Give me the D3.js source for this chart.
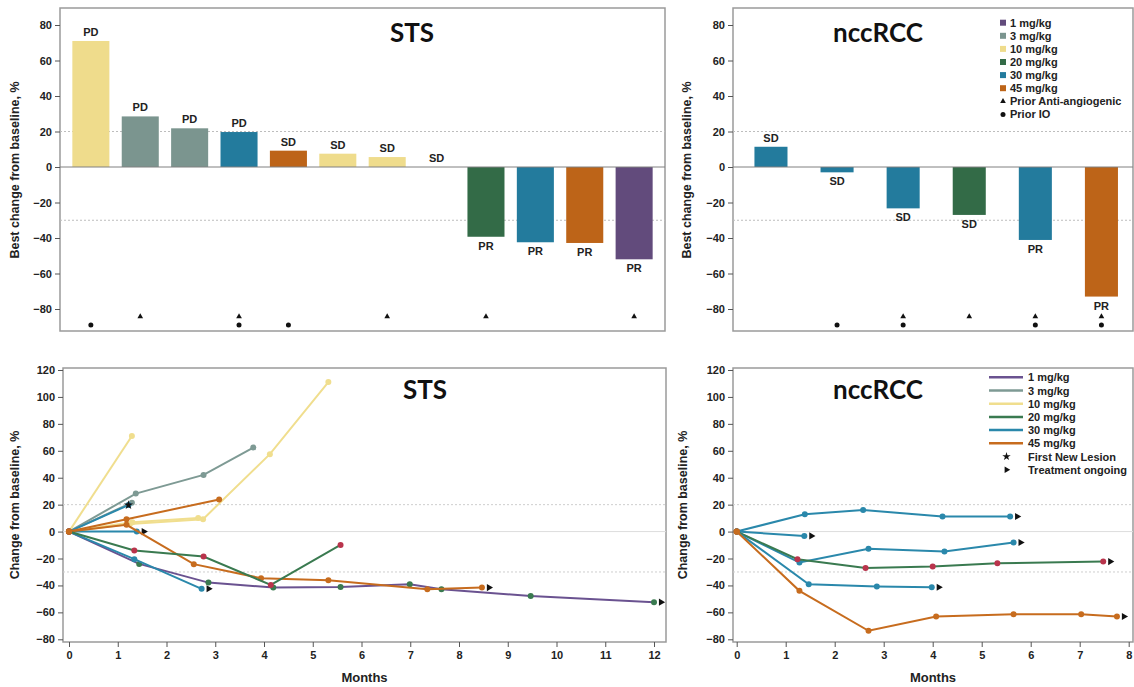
<!DOCTYPE html>
<html lang="en">
<head>
<meta charset="UTF-8">
<title>Best change and change over time - STS / nccRCC</title>
<script src="https://d3js.org/d3.v7.min.js"></script>
<style>
body {margin: 0; background: white;}
svg {display: block;}
text {font-family: "Liberation Sans", Arial, sans-serif; fill: #222;}
.tick text {font-weight: bold; font-size: 11px;}
.ttl {font-family: Lato, "Open Sans", sans-serif; font-weight: bold; font-size: 26px; fill: #111;}
.alab {font-weight: bold; font-size: 12.5px;}
.blab {font-weight: bold; font-size: 11px;}
.leg {font-weight: bold; font-size: 11px;}
</style>
</head>
<body>
<svg width="1134" height="687"></svg>
<script>
// dose groups
var doses = ["1", "3", "10", "20", "30", "45"];
var doseNames = ["1 mg/kg", "3 mg/kg", "10 mg/kg", "20 mg/kg", "30 mg/kg", "45 mg/kg"];

// waterfall, STS
var stsBarDose  = ["10", "3", "3", "30", "45", "10", "10", "30", "20", "30", "45", "1"];
var stsBarValue = [71, 28.5, 21.8, 19.7, 9.2, 7.5, 5.6, 0, -39.3, -42.4, -42.8, -52];
var stsBarResp  = ["PD", "PD", "PD", "PD", "SD", "SD", "SD", "SD", "PR", "PR", "PR", "PR"];
var stsAntiAngio = [0, 1, 0, 1, 0, 0, 1, 0, 1, 0, 0, 1];
var stsPriorIO   = [1, 0, 0, 1, 1, 0, 0, 0, 0, 0, 0, 0];

// waterfall, nccRCC
var rccBarDose  = ["30", "30", "30", "20", "30", "45"];
var rccBarValue = [11.4, -3, -23.3, -27, -41.1, -73];
var rccBarResp  = ["SD", "SD", "SD", "SD", "PR", "PR"];
var rccAntiAngio = [0, 0, 1, 1, 1, 1];
var rccPriorIO   = [0, 1, 1, 0, 1, 1];

// spider plot, STS  (months / % change per patient)
var stsLineDose   = ["1", "3", "3", "10", "10", "10", "30", "30", "30", "45", "45", "20"];
var stsLineMarker = ["20", "3", "3", "10", "10", "10", "30", "30", "30", "45", "45", "red"];
var stsLineMonths = [
  [0, 1.44, 2.86, 4.19, 5.57, 6.99, 7.64, 9.47, 12.0],
  [0, 1.37, 2.76, 3.78],
  [0, 1.29],
  [0, 1.29],
  [0, 1.3, 2.65],
  [0, 1.25, 2.75, 4.12, 5.32],
  [0, 1.22],
  [0, 1.39],
  [0, 1.34, 2.72],
  [0, 1.18, 3.08],
  [0, 1.18, 2.56, 3.94, 5.32, 7.35, 8.47],
  [0, 1.34, 2.76, 4.14, 5.57]
];
var stsLineChange = [
  [0, -24, -37.9, -41.6, -41.1, -39.1, -42.8, -47.8, -52.4],
  [0, 28.2, 42.1, 62.4],
  [0, 21.5],
  [0, 71],
  [0, 7, 10],
  [0, 5.6, 9.2, 57.5, 111],
  [0, 19.7],
  [0, 0],
  [0, -20.5, -42.5],
  [0, 9.2, 23.8],
  [0, 5, -24.2, -34.6, -36.1, -42.8, -41.6],
  [0, -14.1, -18.5, -39.6, -9.9]
];
var stsOngoing   = [1, 0, 0, 0, 0, 0, 0, 1, 1, 0, 1, 0];
var stsNewLesion = [0, 0, 0, 0, 0, 0, 1, 0, 0, 0, 0, 0];

// spider plot, nccRCC
var rccLineDose   = ["30", "30", "30", "20", "30", "45"];
var rccLineMarker = ["30", "30", "30", "red", "30", "45"];
var rccLineMonths = [
  [0, 1.39, 2.58, 4.2, 5.58],
  [0, 1.38],
  [0, 1.28, 2.69, 4.24, 5.65],
  [0, 1.24, 2.63, 4.0, 5.32, 7.48],
  [0, 1.47, 2.86, 3.98],
  [0, 1.28, 2.69, 4.07, 5.65, 7.03, 7.76]
];
var rccLineChange = [
  [0, 12.9, 16.1, 11.2, 11.2],
  [0, -3.2],
  [0, -23, -12.8, -14.8, -8.1],
  [0, -20.5, -27, -26, -23.5, -22.3],
  [0, -39.1, -40.8, -41.3],
  [0, -44, -73.7, -63.1, -61.4, -61.4, -63.1]
];
var rccOngoing   = [1, 1, 1, 1, 1, 1];
var rccNewLesion = [0, 0, 0, 0, 0, 0];

var barTicks = [-80, -60, -40, -20, 0, 20, 40, 60, 80];
var lineTicks = [-80, -60, -40, -20, 0, 20, 40, 60, 80, 100, 120];

// colours
var barColor = d3.scaleOrdinal().domain(doses)
  .range(["#624b7c", "#7b958f", "#efdc8c", "#336b47", "#237b9d", "#bd6418"]);
var lineColor = d3.scaleOrdinal().domain(doses)
  .range(["#6a5290", "#7e9a94", "#f0de8e", "#3a7a50", "#2a88ab", "#c76c1e"]);
function markColor(k) { return k == "red" ? "#b9344c" : lineColor(k); }

var svg = d3.select("svg");

function frame(x0, x1, y0, y1) {
  svg.append("rect").attr("x", x0).attr("y", y0)
    .attr("width", x1 - x0).attr("height", y1 - y0)
    .attr("fill", "none").attr("stroke", "#9a9a9a").attr("stroke-width", 1.5);
}

function hline(x0, x1, y, dashed, col) {
  svg.append("line").attr("x1", x0).attr("x2", x1).attr("y1", y).attr("y2", y)
    .attr("stroke", col).attr("stroke-width", 1)
    .attr("stroke-dasharray", dashed ? "2,2" : null);
}

function yAxis(x, scale, ticks) {
  var g = svg.append("g").attr("transform", "translate(" + x + ",0)")
    .call(d3.axisLeft(scale).tickValues(ticks).tickSize(5).tickPadding(3));
  g.select(".domain").remove();
  g.selectAll(".tick line").attr("stroke", "#555");
}

function yLabel(x, y, txt) {
  svg.append("text").attr("class", "alab").attr("text-anchor", "middle")
    .attr("transform", "translate(" + x + "," + y + ") rotate(-90)").text(txt);
}

function title(x, y, txt) {
  svg.append("text").attr("class", "ttl").attr("text-anchor", "middle")
    .attr("x", x).attr("y", y).text(txt);
}

// ---------- waterfall panels ----------
var yb = d3.scaleLinear().domain([-80, 80]).range([309, 25]);

function waterfall(x0, x1, xr, pad, dose, val, resp, anti, io) {
  frame(x0, x1, 8, 331);
  hline(x0, x1, yb(20), true, "#bdbdbd");
  hline(x0, x1, yb(-30), true, "#bdbdbd");
  var xb = d3.scaleBand().domain(d3.range(val.length)).range(xr).padding(pad);
  var cx = function(i) { return xb(i) + xb.bandwidth() / 2; };
  var g = svg.append("g");
  g.selectAll("rect").data(val).enter().append("rect")
    .attr("x", function(d, i) { return xb(i); })
    .attr("width", xb.bandwidth())
    .attr("y", function(d) { return yb(Math.max(d, 0)); })
    .attr("height", function(d) { return Math.abs(yb(d) - yb(0)); })
    .attr("fill", function(d, i) { return barColor(dose[i]); });
  hline(x0, x1, yb(0), false, "#808080");
  g.selectAll("text.blab").data(val).enter().append("text").attr("class", "blab")
    .attr("text-anchor", "middle")
    .attr("x", function(d, i) { return cx(i); })
    .attr("y", function(d) { return d >= 0 ? yb(d) - 5 : yb(d) + 13; })
    .text(function(d, i) { return resp[i]; });
  anti.forEach(function(a, i) {
    if (a) g.append("path").attr("d", d3.symbol(d3.symbolTriangle, 14)())
      .attr("transform", "translate(" + cx(i) + "," + yb(-84.3) + ")")
      .attr("fill", "#111");
  });
  io.forEach(function(a, i) {
    if (a) g.append("circle").attr("cx", cx(i)).attr("cy", yb(-89))
      .attr("r", 2.5).attr("fill", "#111");
  });
  yAxis(x0, yb, barTicks);
}

waterfall(60, 665, [60, 665], 0.25, stsBarDose, stsBarValue, stsBarResp, stsAntiAngio, stsPriorIO);
waterfall(733, 1133, [721.4, 1151], 0.5, rccBarDose, rccBarValue, rccBarResp, rccAntiAngio, rccPriorIO);
title(412, 42, "STS");
title(878, 42, "nccRCC");
yLabel(19, 170, "Best change from baseline, %");
yLabel(691, 170, "Best change from baseline, %");

// legend, top
var lgTop = svg.append("g");
doseNames.forEach(function(n, i) {
  var y = 22.7 + i * 13.1;
  lgTop.append("rect").attr("x", 1000).attr("y", y - 3).attr("width", 6).attr("height", 6)
    .attr("fill", barColor(doses[i]));
  lgTop.append("text").attr("class", "leg").attr("x", 1010).attr("y", y + 4).text(n);
});
lgTop.append("path").attr("d", d3.symbol(d3.symbolTriangle, 14)())
  .attr("transform", "translate(1003," + (22.7 + 6 * 13.1) + ")").attr("fill", "#111");
lgTop.append("text").attr("class", "leg").attr("x", 1010).attr("y", 22.7 + 6 * 13.1 + 4).text("Prior Anti-angiogenic");
lgTop.append("circle").attr("cx", 1003).attr("cy", 22.7 + 7 * 13.1).attr("r", 2.5).attr("fill", "#111");
lgTop.append("text").attr("class", "leg").attr("x", 1010).attr("y", 22.7 + 7 * 13.1 + 4).text("Prior IO");

// ---------- spider panels ----------
var yl = d3.scaleLinear().domain([-80, 120]).range([639.3, 370]);

function spider(x0, x1, xs, xticks, dose, mark, months, change, ongoing, lesion) {
  frame(x0, x1, 368, 642);
  hline(x0, x1, yl(20), true, "#cfcfcf");
  hline(x0, x1, yl(-30), true, "#cfcfcf");
  hline(x0, x1, yl(0), false, "#dddddd");
  var line = d3.line().x(function(d) { return xs(d[0]); }).y(function(d) { return yl(d[1]); });
  var g = svg.append("g");
  months.forEach(function(m, i) {
    var pts = m.map(function(v, j) { return [v, change[i][j]]; });
    g.append("path").attr("d", line(pts)).attr("fill", "none")
      .attr("stroke", lineColor(dose[i])).attr("stroke-width", 2);
    g.selectAll(null).data(pts).enter().append("circle")
      .attr("cx", function(d) { return xs(d[0]); })
      .attr("cy", function(d) { return yl(d[1]); })
      .attr("r", 3).attr("fill", markColor(mark[i]));
    var last = pts[pts.length - 1];
    if (ongoing[i]) {
      g.append("path").attr("d", d3.symbol(d3.symbolTriangle, 22)())
        .attr("transform", "translate(" + (xs(last[0]) + 7) + "," + yl(last[1]) + ") rotate(90)")
        .attr("fill", "#111");
    }
    if (lesion[i]) {
      g.append("path").attr("d", d3.symbol(d3.symbolStar, 26)())
        .attr("transform", "translate(" + xs(last[0]) + "," + yl(last[1]) + ")")
        .attr("fill", "#111");
    }
  });
  // origin marker on top
  g.append("circle").attr("cx", xs(0)).attr("cy", yl(0)).attr("r", 3.2).attr("fill", lineColor("45"));
  yAxis(x0, yl, lineTicks);
  var ga = svg.append("g").attr("transform", "translate(0,642)")
    .call(d3.axisBottom(xs).tickValues(xticks).tickSize(5).tickPadding(4));
  ga.select(".domain").remove();
  ga.selectAll(".tick line").attr("stroke", "#555");
  svg.append("text").attr("class", "alab").attr("text-anchor", "middle")
    .attr("x", (x0 + x1) / 2).attr("y", 682).style("font-size", "13px").text("Months");
}

var xSts = d3.scaleLinear().domain([0, 12]).range([69, 654]);
var xRcc = d3.scaleLinear().domain([0, 8]).range([736.7, 1128.7]);
spider(63, 666, xSts, d3.range(0, 13), stsLineDose, stsLineMarker, stsLineMonths, stsLineChange, stsOngoing, stsNewLesion);
spider(733, 1133, xRcc, d3.range(0, 9), rccLineDose, rccLineMarker, rccLineMonths, rccLineChange, rccOngoing, rccNewLesion);
title(425, 399, "STS");
title(878, 399, "nccRCC");
yLabel(19, 505, "Change from baseline, %");
yLabel(687, 505, "Change from baseline, %");

// legend, bottom
var lgBot = svg.append("g");
doseNames.forEach(function(n, i) {
  var y = 377.3 + i * 13.2;
  lgBot.append("line").attr("x1", 989).attr("x2", 1023).attr("y1", y).attr("y2", y)
    .attr("stroke", lineColor(doses[i])).attr("stroke-width", 2.5);
  lgBot.append("text").attr("class", "leg").attr("x", 1028).attr("y", y + 4).text(n);
});
lgBot.append("path").attr("d", d3.symbol(d3.symbolStar, 22)())
  .attr("transform", "translate(1006.5," + (377.3 + 6 * 13.2) + ")").attr("fill", "#111");
lgBot.append("text").attr("class", "leg").attr("x", 1028).attr("y", 377.3 + 6 * 13.2 + 4).text("First New Lesion");
lgBot.append("path").attr("d", d3.symbol(d3.symbolTriangle, 18)())
  .attr("transform", "translate(1006.5," + (377.3 + 7 * 13.2) + ") rotate(90)").attr("fill", "#111");
lgBot.append("text").attr("class", "leg").attr("x", 1028).attr("y", 377.3 + 7 * 13.2 + 4).text("Treatment ongoing");
</script>
</body>
</html>
